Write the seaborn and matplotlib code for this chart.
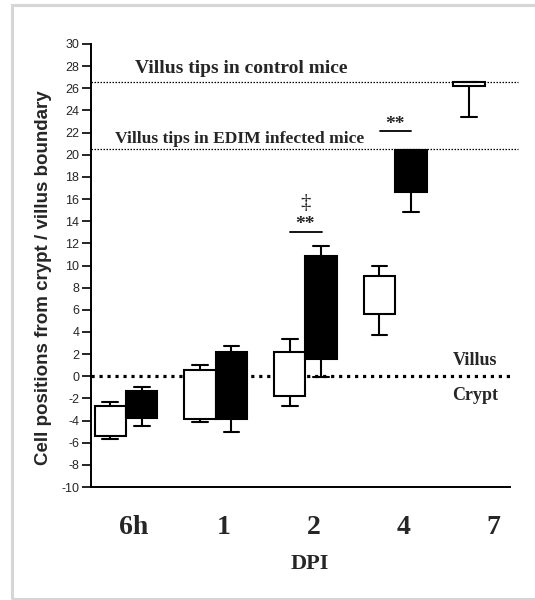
import matplotlib
matplotlib.use("Agg")
import matplotlib.pyplot as plt
import matplotlib.transforms as mtransforms
from matplotlib.patches import Rectangle
import seaborn as sns
import pandas as pd

# ---------------- data ----------------
days = ["6h", "1", "2", "4", "7"]
groups = ["control", "infected"]

control_low = [-5.66, -4.09, -2.65, 3.70, 23.45]
control_q1 = [-5.40, -3.88, -1.77, 5.60, 26.17]
control_med = [-4.00, -1.70, 0.20, 7.30, 26.35]   # median line not drawn in source
control_q3 = [-2.70, 0.54, 2.17, 9.03, 26.53]
control_high = [-2.35, 1.02, 3.37, 9.93, 26.53]

infected_days = ["6h", "1", "2", "4"]
infected_low = [-4.45, -5.02, -0.06, 14.83]
infected_q1 = [-3.79, -3.88, 1.53, 16.60]
infected_med = [-2.50, -0.80, 6.20, 18.50]       # median line not drawn in source
infected_q3 = [-1.33, 2.23, 10.86, 20.40]
infected_high = [-0.96, 2.77, 11.76, 20.40]

yticks = list(range(-10, 31, 2))
tip_control = 26.6
tip_infected = 20.5
boundary = 0.0
sig_marks = [("2", 13.06, "**", "\u2021"), ("4", 22.1, "**", None)]

# ---------------- build long table ----------------
rows = []
for d, lo, q1, md, q3, hi in zip(days, control_low, control_q1, control_med, control_q3, control_high):
    for v in (lo, q1, md, q3, hi):
        rows.append({"day": d, "group": "control", "pos": v})
for d, lo, q1, md, q3, hi in zip(infected_days, infected_low, infected_q1, infected_med, infected_q3, infected_high):
    for v in (lo, q1, md, q3, hi):
        rows.append({"day": d, "group": "infected", "pos": v})
df = pd.DataFrame(rows)

# ---------------- style ----------------
sns.set_style("ticks")
plt.rcParams["font.family"] = ["Liberation Sans", "DejaVu Sans"]
plt.rcParams["axes.unicode_minus"] = False
SERIF = ["Liberation Serif", "DejaVu Serif"]

fig = plt.figure(figsize=(5.35, 6.0), dpi=100)
ax = fig.add_axes([91 / 535, 1 - 487 / 600, (510 - 91) / 535, (487 - 44) / 600])

sns.boxplot(
    data=df, x="day", y="pos", hue="group", order=days, hue_order=groups,
    palette={"control": "white", "infected": "black"}, saturation=1,
    whis=(0, 100), width=0.7, gap=0, dodge=True, linecolor="black",
    linewidth=1.5, showfliers=False, medianprops={"visible": False},
    legend=False, ax=ax,
)

ax.set_xlim(-0.39, 4.28)
ax.set_ylim(-10, 30)
ax.set_yticks(yticks)
ax.set_yticklabels([str(t) for t in yticks], fontsize=9)
ax.tick_params(axis="y", length=6.5, width=1.2, pad=2, color="black")
ax.tick_params(axis="x", length=0, pad=20)
for lab in ax.get_xticklabels():
    lab.set_fontfamily(SERIF)
    lab.set_fontweight("bold")
    lab.set_fontsize(20)
    lab.set_transform(lab.get_transform() + mtransforms.ScaledTranslation(8 / 100, 0, fig.dpi_scale_trans))

sns.despine(ax=ax)
for s in ("left", "bottom"):
    ax.spines[s].set_linewidth(1.4)
    ax.spines[s].set_color("black")

ax.set_xlabel("DPI", fontfamily=SERIF, fontweight="bold", fontsize=16)
ax.xaxis.set_label_coords(0.523, -0.151)
ax.set_ylabel("Cell positions from crypt / villus boundary", fontweight="bold", fontsize=13.5)
ax.yaxis.set_label_coords(-0.093, 0.473)

# reference lines
blend = ax.get_yaxis_transform()
for yv in (tip_control, tip_infected):
    ax.plot([0.0, 1.018], [yv, yv], transform=blend, color="black", lw=0.9,
            linestyle=(0, (1.2, 1.2)), clip_on=False, zorder=1)
ax.plot([0.0, 1.01], [boundary, boundary], transform=blend, color="black", lw=2.3,
        linestyle=(0, (1.0, 1.5)), clip_on=False, zorder=1)

ax.text(0.10, 27.35, "Villus tips in control mice", fontfamily=SERIF, fontweight="bold",
        fontsize=14, va="baseline", ha="left")
ax.text(-0.12, 21.03, "Villus tips in EDIM infected mice", fontfamily=SERIF, fontweight="bold",
        fontsize=12.6, va="baseline", ha="left")
ax.text(3.89, 1.44, "Villus", fontfamily=SERIF, fontweight="bold", fontsize=13, va="center", ha="center")
ax.text(3.89, -1.75, "Crypt", fontfamily=SERIF, fontweight="bold", fontsize=13, va="center", ha="center")

# significance marks
for d, yv, stars, extra in sig_marks:
    xc = days.index(d)
    ax.plot([xc - 0.17, xc + 0.18], [yv, yv], color="black", lw=1.3)
    ax.text(xc, yv - 0.15, stars, fontfamily=SERIF, fontweight="bold", fontsize=14,
            ha="center", va="bottom")
    if extra:
        ax.text(xc, yv + 2.55, extra, fontfamily=SERIF, fontsize=15, ha="center", va="center")

# light grey outer frame
fig.patches.append(Rectangle((12 / 535, 1 / 600), 1.1, 594 / 600, transform=fig.transFigure,
                             fill=False, edgecolor="#d6d6d6", lw=2.2, zorder=0))

fig.savefig("out.png", dpi=100)
